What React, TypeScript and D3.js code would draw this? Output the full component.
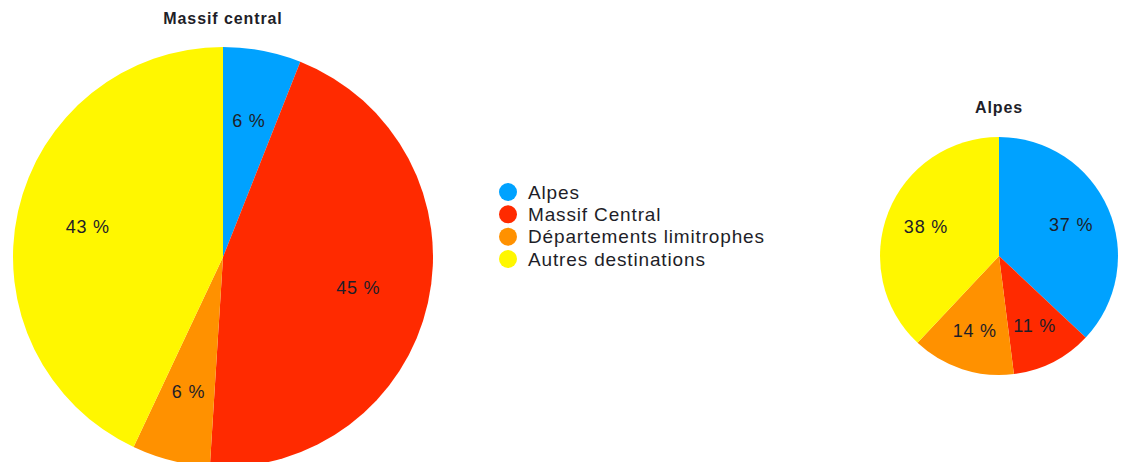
import React from "react";
import * as d3 from "d3";

const categories = ["Alpes", "Massif Central", "Départements limitrophes", "Autres destinations"];
const colors = ["#00a2ff", "#ff2a00", "#ff9100", "#fff700"];
const massifTitle = "Massif central";
const massifValues = [6, 45, 6, 43];
const alpesTitle = "Alpes";
const alpesValues = [37, 11, 14, 38];

const W = 1142;
const H = 462;
const FONT = "'Liberation Sans', Arial, Helvetica, sans-serif";
const TEXT = "#1e1e28";

type PieProps = { cx: number; cy: number; r: number; values: number[]; title: string; titleY: number };

function Pie({ cx, cy, r, values, title, titleY }: PieProps) {
  const pie = d3.pie<number>().sort(null).value((d) => d);
  const arcs = pie(values);
  const arc = d3.arc<d3.PieArcDatum<number>>().innerRadius(0).outerRadius(r);
  const labelArc = d3.arc<d3.PieArcDatum<number>>().innerRadius(r * 0.66).outerRadius(r * 0.66);
  return (
    <g>
      <text x={cx} y={titleY} textAnchor="middle" fontFamily={FONT} fontWeight="bold" fontSize={16} letterSpacing={0.9} fill={TEXT}>
        {title}
      </text>
      <g transform={`translate(${cx},${cy})`}>
        {arcs.map((a, i) => (
          <path key={i} d={arc(a) || ""} fill={colors[i]} />
        ))}
        {arcs.map((a, i) => {
          const [x, y] = labelArc.centroid(a);
          return (
            <text key={"l" + i} x={x} y={y} dy="0.35em" textAnchor="middle" fontFamily={FONT} fontSize={18} letterSpacing={0.8} fill={TEXT}>
              {`${a.data} %`}
            </text>
          );
        })}
      </g>
    </g>
  );
}

export default function App() {
  const legendY = d3.scalePoint<string>().domain(categories).range([192, 259]);
  return (
    <svg width={W} height={H} style={{ position: "absolute", left: 0, top: 0, background: "#fff" }}>
      <rect width={W} height={H} fill="#fff" />
      <Pie cx={223} cy={257} r={210} values={massifValues} title={massifTitle} titleY={24} />
      <Pie cx={999} cy={256} r={119} values={alpesValues} title={alpesTitle} titleY={113} />
      <g>
        {categories.map((c, i) => (
          <g key={c} transform={`translate(0,${legendY(c)})`}>
            <circle cx={508} cy={0} r={9} fill={colors[i]} />
            <text x={528} y={0} dy="0.35em" fontFamily={FONT} fontSize={19} letterSpacing={0.85} fill={TEXT}>
              {c}
            </text>
          </g>
        ))}
      </g>
    </svg>
  );
}
